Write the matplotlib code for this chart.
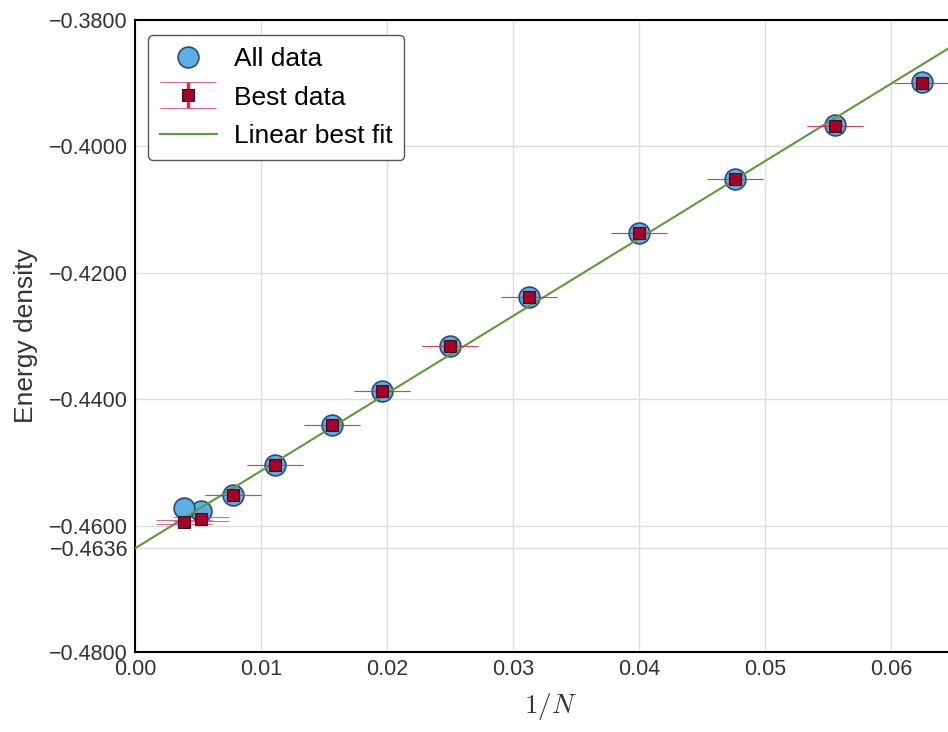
import numpy as np
import matplotlib
matplotlib.use('Agg')
from matplotlib import pyplot as plt
from matplotlib.ticker import FuncFormatter

plt.rcParams['font.family'] = ['Liberation Sans', 'DejaVu Sans']
plt.rcParams['mathtext.fontset'] = 'cm'

# 1/N values
inv_n = [0.0625, 0.05556, 0.04762, 0.04, 0.03125, 0.025, 0.0196, 0.01563,
         0.01111, 0.00778, 0.00524, 0.00389]
# all data (circles)
all_energy = [-0.38981, -0.39661, -0.40516, -0.41370, -0.42383, -0.43158,
              -0.43870, -0.44408, -0.45041, -0.45516, -0.45769, -0.45722]
# best data (squares with error bars)
best_energy = [-0.38997, -0.39677, -0.40516, -0.41370, -0.42383, -0.43158,
               -0.43870, -0.44408, -0.45041, -0.45516, -0.45896, -0.45943]
best_err = [0.00005, 0.00005, 0.00005, 0.00005, 0.00005, 0.00005,
            0.00005, 0.00005, 0.00005, 0.00005, 0.0003, 0.0003]

# linear fit parameters
fit_intercept = -0.4636
fit_slope = 1.225

yticks = [-0.48, -0.4636, -0.46, -0.44, -0.42, -0.40, -0.38]
xticks = [0.00, 0.01, 0.02, 0.03, 0.04, 0.05, 0.06]
xlim = [0.0, 0.066]
ylim = [-0.48, -0.38]

fig = plt.figure(figsize=(9.48, 7.32), dpi=100)
ax = fig.add_axes([0.1424, 0.1093, 0.877, 0.8634])

ax.grid(True, color='#dddddd', linewidth=1.0, zorder=0)
ax.set_axisbelow(True)

h_all, = ax.plot(inv_n, all_energy, 'o', markersize=15, markerfacecolor='#5aafe6',
                 markeredgecolor='#2d4d6e', markeredgewidth=1.2, label='All data', zorder=3)
h_best = ax.errorbar(inv_n, best_energy, yerr=best_err, fmt='s', markersize=8,
                     markerfacecolor='#a50026', markeredgecolor='#3a1020', markeredgewidth=0.8,
                     ecolor='#c9305a', elinewidth=2.5, capsize=20, capthick=2.5,
                     label='Best data', zorder=5)
fit_x = np.array(xlim)
h_fit, = ax.plot(fit_x, fit_intercept + fit_slope*fit_x, '-', color='#5e9a3c', linewidth=1.5,
                 label='Linear best fit', zorder=4)

# soften the caps a bit
for line in h_best.lines[1]:
    line.set_alpha(0.7)

ax.set_xlim(xlim)
ax.set_ylim(ylim)
ax.set_xticks(xticks)
ax.set_yticks(yticks)
ax.xaxis.set_major_formatter(FuncFormatter(lambda v, p: '%.2f' % v))
ax.yaxis.set_major_formatter(FuncFormatter(lambda v, p: ('%.4f' % v).replace('-', '\u2212')))
ax.tick_params(length=0, labelsize=15.5, labelcolor='#333333', pad=5)

for s in ax.spines.values():
    s.set_color('black')
    s.set_linewidth(1.5)

ax.set_xlabel(r'$1/N$', fontsize=19.5, color='#333333', labelpad=8)
ax.set_ylabel('Energy density', fontsize=19, color='#333333', labelpad=8)

leg = ax.legend([h_all, h_best, h_fit], ['All data', 'Best data', 'Linear best fit'],
                loc='upper left', fontsize=19, numpoints=1, fancybox=True,
                framealpha=1.0, borderpad=0.45, handlelength=2.15, labelspacing=0.55,
                handletextpad=0.65, borderaxespad=0, bbox_to_anchor=(0.0156, 0.976))
leg.get_frame().set_edgecolor('#555555')

fig.savefig('out.png', dpi=100)
